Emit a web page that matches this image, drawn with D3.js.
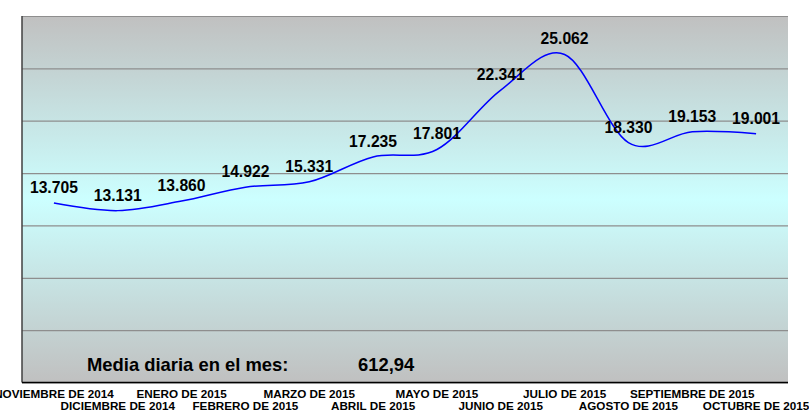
<!DOCTYPE html>
<html>
<head>
<meta charset="utf-8">
<script src="https://cdn.jsdelivr.net/npm/d3@7"></script>
<style>
  html, body { margin: 0; padding: 0; background: #ffffff; }
  svg { display: block; }
  text { font-family: "Liberation Sans", Arial, sans-serif; font-weight: bold; fill: #000; }
</style>
</head>
<body>
<svg id="chart" width="809" height="414"></svg>
<script>
const categories = [
  "NOVIEMBRE DE 2014", "DICIEMBRE DE 2014", "ENERO DE 2015", "FEBRERO DE 2015",
  "MARZO DE 2015", "ABRIL DE 2015", "MAYO DE 2015", "JUNIO DE 2015",
  "JULIO DE 2015", "AGOSTO DE 2015", "SEPTIEMBRE DE 2015", "OCTUBRE DE 2015"
];
const values = [13705, 13131, 13860, 14922, 15331, 17235, 17801, 22341, 25062, 18330, 19153, 19001];
const yTicks = [0, 4000, 8000, 12000, 16000, 20000, 24000, 28000];
const mediaLabel = "Media diaria en el mes:";
const mediaValue = "612,94";

(function () {
const svg = d3.select("#chart");
const pLeft = 22, pRight = 788, pTop = 16, pBottom = 382.5;

const x = d3.scaleBand().domain(categories).range([pLeft, pRight]);
const y = d3.scaleLinear().domain([0, 28000]).range([pBottom, pTop]);

const defs = svg.append("defs");
const grad = defs.append("linearGradient").attr("id", "bg")
  .attr("x1", 0).attr("y1", 0).attr("x2", 0).attr("y2", 1);
grad.append("stop").attr("offset", "0%").attr("stop-color", "#c0c0c0");
grad.append("stop").attr("offset", "50%").attr("stop-color", "#ccffff");
grad.append("stop").attr("offset", "100%").attr("stop-color", "#c0c0c0");

svg.append("rect")
  .attr("x", pLeft).attr("y", pTop)
  .attr("width", pRight - pLeft).attr("height", pBottom - pTop)
  .attr("fill", "url(#bg)");

// gridlines
const grid = svg.append("g").attr("transform", `translate(${pLeft},0)`)
  .call(d3.axisLeft(y).tickValues(yTicks).tickSize(-(pRight - pLeft)).tickFormat(""));
grid.select(".domain").remove();
grid.selectAll(".tick line").attr("stroke", "#8e8e8e").attr("stroke-width", 1.2);

// borders
svg.append("line").attr("x1", pLeft).attr("x2", pLeft).attr("y1", pTop).attr("y2", pBottom)
  .attr("stroke", "#404040").attr("stroke-width", 1.5);
svg.append("line").attr("x1", pLeft).attr("x2", pRight).attr("y1", pBottom).attr("y2", pBottom)
  .attr("stroke", "#000").attr("stroke-width", 1.5);

// line
const cx = d => x(d) + x.bandwidth() / 2;
const line = d3.line()
  .x((d, i) => cx(categories[i]))
  .y(d => y(d))
  .curve(d3.curveCardinal.tension(0));
svg.append("path").datum(values)
  .attr("d", line)
  .attr("fill", "none")
  .attr("stroke", "#0000ff")
  .attr("stroke-width", 1.5);

// data labels
const fmt = v => d3.format(",")(v).replace(/,/g, ".");
svg.append("g").selectAll("text").data(values).join("text")
  .attr("x", (d, i) => cx(categories[i]))
  .attr("y", d => y(d) - 10)
  .attr("text-anchor", "middle")
  .style("font-size", "15.7px")
  .text(d => fmt(d));

// x axis labels (staggered)
svg.append("g").selectAll("text").data(categories).join("text")
  .attr("x", d => cx(d))
  .attr("y", (d, i) => i % 2 === 0 ? 397.5 : 409.5)
  .attr("text-anchor", "middle")
  .style("font-size", "11.7px")
  .text(d => d);

// media text
svg.append("text").attr("x", 87).attr("y", 371)
  .style("font-size", "18.4px").text(mediaLabel);
svg.append("text").attr("x", 358).attr("y", 371)
  .style("font-size", "18.4px").text(mediaValue);
})();
</script>
</body>
</html>
